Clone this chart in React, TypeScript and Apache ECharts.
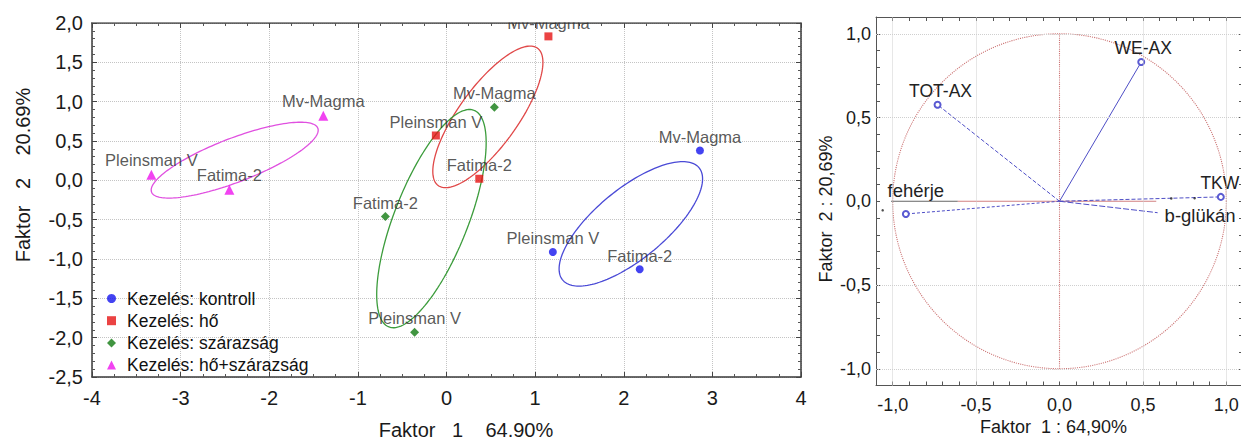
import React, { useEffect, useRef } from 'react';
import * as echarts from 'echarts';

// ---------- Data: score plot (Faktor 1 × Faktor 2) ----------
const pointNames = ['Pleinsman V', 'Fatima-2', 'Mv-Magma'];
const groupNames = ['Kezelés: kontroll', 'Kezelés: hő', 'Kezelés: szárazság', 'Kezelés: hő+szárazság'];
const kontrollX = [1.20, 2.18, 2.86];
const kontrollY = [-0.91, -1.13, 0.38];
const hoX = [-0.12, 0.37, 1.15];
const hoY = [0.57, 0.02, 1.83];
const szarazsagX = [-0.36, -0.69, 0.54];
const szarazsagY = [-1.93, -0.46, 0.93];
const hoSzarazsagX = [-3.33, -2.45, -1.39];
const hoSzarazsagY = [0.07, -0.12, 0.82];

// ---------- Data: loading plot ----------
const varNames = ['TOT-AX', 'WE-AX', 'TKW', 'fehérje', 'b-glükán'];
const loadX = [-0.731, 0.490, 0.967, -0.921, 0.585];
const loadY = [0.576, 0.831, 0.026, -0.076, -0.068];
const strayX = [-1.06, 0.67, 0.81];
const strayY = [-0.054, 0.017, 0.018];
const loadGridTicks = [-1, -0.5, 0.5, 1];
const axisRedX = [-0.61, 0.58];
const axisDarkX = [-1.01, -0.61];

const FONT = "'Liberation Sans', Arial, Helvetica, sans-serif";

function ellipsePoints(xs: number[], ys: number[], k = 0.97, n = 160) {
  const m = xs.length;
  const mx = xs.reduce((a, b) => a + b, 0) / m;
  const my = ys.reduce((a, b) => a + b, 0) / m;
  let sxx = 0, syy = 0, sxy = 0;
  for (let i = 0; i < m; i++) {
    sxx += (xs[i] - mx) ** 2;
    syy += (ys[i] - my) ** 2;
    sxy += (xs[i] - mx) * (ys[i] - my);
  }
  sxx /= m - 1; syy /= m - 1; sxy /= m - 1;
  const tr = sxx + syy;
  const det = sxx * syy - sxy * sxy;
  const disc = Math.sqrt(Math.max(tr * tr / 4 - det, 0));
  const l1 = tr / 2 + disc;
  const l2 = Math.max(tr / 2 - disc, 0);
  const th = 0.5 * Math.atan2(2 * sxy, sxx - syy);
  const a = k * Math.sqrt(l1);
  const b = k * Math.sqrt(l2);
  const pts: number[][] = [];
  for (let i = 0; i <= n; i++) {
    const t = (2 * Math.PI * i) / n;
    pts.push([
      mx + a * Math.cos(t) * Math.cos(th) - b * Math.sin(t) * Math.sin(th),
      my + a * Math.cos(t) * Math.sin(th) + b * Math.sin(t) * Math.cos(th),
    ]);
  }
  return pts;
}

function circlePoints(n = 240) {
  const pts: number[][] = [];
  for (let i = 0; i <= n; i++) {
    const t = (2 * Math.PI * i) / n;
    pts.push([Math.cos(t), Math.sin(t)]);
  }
  return pts;
}

const comma = (v: number, d = 1) => v.toFixed(d).replace('.', ',');

export default function App() {
  const ref = useRef<HTMLDivElement>(null);

  useEffect(() => {
    if (!ref.current) return;
    const chart = echarts.init(ref.current, undefined, { renderer: 'svg' });

    const groups = [
      { name: groupNames[0], xs: kontrollX, ys: kontrollY, symbol: 'circle', size: 8, color: '#1414ee', ell: '#4a4ad6' },
      { name: groupNames[1], xs: hoX, ys: hoY, symbol: 'rect', size: 8, color: '#e61414', ell: '#e04848' },
      { name: groupNames[2], xs: szarazsagX, ys: szarazsagY, symbol: 'diamond', size: 9, color: '#127a12', ell: '#3c9c3c' },
      { name: groupNames[3], xs: hoSzarazsagX, ys: hoSzarazsagY, symbol: 'triangle', size: 10, color: '#ee14ee', ell: '#e050e0' },
    ];

    const scoreSeries: any[] = [];
    groups.forEach((g) => {
      scoreSeries.push({
        type: 'line',
        name: g.name + ' ellipszis',
        xAxisIndex: 0, yAxisIndex: 0,
        data: ellipsePoints(g.xs, g.ys),
        showSymbol: false, symbol: 'none',
        lineStyle: { color: g.ell, width: 1.3 },
        silent: true, z: 2,
      });
    });
    groups.forEach((g) => {
      scoreSeries.push({
        type: 'scatter',
        name: g.name,
        xAxisIndex: 0, yAxisIndex: 0,
        symbol: g.symbol, symbolSize: g.size,
        itemStyle: { color: g.color },
        data: g.xs.map((x, i) => ({ name: pointNames[i], value: [x, g.ys[i]] })),
        label: {
          show: true, position: 'top', distance: 1, formatter: '{b}',
          color: '#2e2e2e', fontSize: 16.5, fontFamily: FONT,
        },
        z: 3,
      });
    });

    const vecStyle: Record<string, any> = {
      'TOT-AX': { type: [4, 2], offset: [3, 0], size: 17.5 },
      'WE-AX': { type: 'solid', offset: [2, 0], size: 17.5 },
      'TKW': { type: [4, 2], offset: [-1, 0], size: 17.5 },
      'fehérje': { type: [3, 2], offset: [10, -9], size: 18.5 },
      'b-glükán': { type: [6, 2], offset: [0, 3], size: 18.5, noMarker: true },
    };

    const loadSeries: any[] = varNames.map((nm, i) => {
      const st = vecStyle[nm];
      return {
        type: 'line',
        name: nm,
        xAxisIndex: 2, yAxisIndex: 2,
        symbol: 'emptyCircle', symbolSize: 6, showSymbol: true,
        itemStyle: { color: '#5a5ad2', borderWidth: 1.2 },
        lineStyle: { color: '#4e4ec6', width: 1, type: st.type },
        data: [
          { value: [0, 0], symbol: 'none', label: { show: false } },
          {
            name: nm,
            value: [loadX[i], loadY[i]],
            symbol: st.noMarker ? 'circle' : 'emptyCircle',
            symbolSize: st.noMarker ? 1 : 6,
            label: st.noMarker
              ? { show: true, position: 'right', distance: 7, offset: st.offset, formatter: '{b}', fontSize: st.size }
              : { show: true, position: 'top', distance: 1, offset: st.offset, formatter: '{b}', fontSize: st.size },
          },
        ],
        label: { color: '#222', fontSize: 17.5, fontFamily: FONT },
        silent: true, z: 4,
      };
    });

    const option: any = {
      animation: false,
      backgroundColor: '#ffffff',
      textStyle: { fontFamily: FONT },
      grid: [
        { left: 92, top: 23, width: 709, height: 354, show: false },
        { left: 876, top: 17, width: 367, height: 368.5, show: false },
      ],
      legend: {
        data: groupNames,
        orient: 'vertical',
        left: 107, top: 289.5,
        padding: 0,
        itemWidth: 9, itemHeight: 9, itemGap: 4.2,
        selectedMode: false,
        textStyle: { fontSize: 17.5, lineHeight: 17, color: '#111', fontFamily: FONT, padding: [0, 0, 0, 6] },
      },
      xAxis: [
        {
          gridIndex: 0, type: 'value', position: 'bottom', min: -4, max: 4, interval: 1,
          axisLine: { show: true, onZero: false, lineStyle: { color: '#3a3a3a', width: 1.5 } },
          axisTick: { show: true, inside: true, length: 5, lineStyle: { color: '#444' } },
          minorTick: { show: true, splitNumber: 4, length: 3, lineStyle: { color: '#555' } },
          splitLine: { show: true, lineStyle: { type: 'dotted', color: '#c4c4c4', width: 1 } },
          axisLabel: { fontSize: 20, color: '#1a1a1a', margin: 11, interval: 0, showMinLabel: true, showMaxLabel: true, fontFamily: FONT },
        },
        {
          gridIndex: 0, type: 'value', position: 'top', min: -4, max: 4, interval: 1,
          axisLine: { show: true, onZero: false, lineStyle: { color: '#3a3a3a', width: 1.5 } },
          axisTick: { show: true, inside: true, length: 5, lineStyle: { color: '#444' } },
          minorTick: { show: true, splitNumber: 4, length: 3, lineStyle: { color: '#555' } },
          splitLine: { show: false }, axisLabel: { show: false },
        },
        {
          gridIndex: 1, type: 'value', position: 'bottom', min: -1.1, max: 1.1, interval: 0.1,
          axisLine: { show: true, onZero: false, lineStyle: { color: '#555', width: 1 } },
          axisTick: { show: true, inside: true, length: 4, lineStyle: { color: '#555' } },
          splitLine: { show: false },
          axisLabel: {
            fontSize: 18, color: '#1a1a1a', margin: 10, interval: 0, hideOverlap: false, fontFamily: FONT,
            formatter: (v: number) => { const r = Math.round(v * 10); return r % 5 === 0 ? comma(r / 10) : ''; },
          },
        },
        {
          gridIndex: 1, type: 'value', position: 'top', min: -1.1, max: 1.1, interval: 0.1,
          axisLine: { show: true, onZero: false, lineStyle: { color: '#555', width: 1 } },
          axisTick: { show: true, inside: true, length: 4, lineStyle: { color: '#555' } },
          splitLine: { show: false }, axisLabel: { show: false },
        },
      ],
      yAxis: [
        {
          gridIndex: 0, type: 'value', position: 'left', min: -2.5, max: 2, interval: 0.5,
          axisLine: { show: true, onZero: false, lineStyle: { color: '#3a3a3a', width: 1.5 } },
          axisTick: { show: true, inside: true, length: 5, lineStyle: { color: '#444' } },
          minorTick: { show: true, splitNumber: 5, length: 3, lineStyle: { color: '#555' } },
          splitLine: { show: true, lineStyle: { type: 'dotted', color: '#c4c4c4', width: 1 } },
          axisLabel: { fontSize: 20, color: '#1a1a1a', margin: 9, interval: 0, showMinLabel: true, showMaxLabel: true, fontFamily: FONT, formatter: (v: number) => comma(v) },
        },
        {
          gridIndex: 0, type: 'value', position: 'right', min: -2.5, max: 2, interval: 0.5,
          axisLine: { show: true, onZero: false, lineStyle: { color: '#3a3a3a', width: 1.5 } },
          axisTick: { show: true, inside: true, length: 5, lineStyle: { color: '#444' } },
          minorTick: { show: true, splitNumber: 5, length: 3, lineStyle: { color: '#555' } },
          splitLine: { show: false }, axisLabel: { show: false },
        },
        {
          gridIndex: 1, type: 'value', position: 'left', min: -1.1, max: 1.1, interval: 0.1,
          axisLine: { show: true, onZero: false, lineStyle: { color: '#555', width: 1 } },
          axisTick: { show: true, inside: true, length: 4, lineStyle: { color: '#555' } },
          splitLine: { show: false },
          axisLabel: {
            fontSize: 18, color: '#1a1a1a', margin: 5, interval: 0, hideOverlap: false, fontFamily: FONT,
            formatter: (v: number) => { const r = Math.round(v * 10); return r % 5 === 0 ? comma(r / 10) : ''; },
          },
        },
        {
          gridIndex: 1, type: 'value', position: 'right', min: -1.1, max: 1.1, interval: 0.1,
          axisLine: { show: true, onZero: false, lineStyle: { color: '#555', width: 1 } },
          axisTick: { show: true, inside: true, length: 4, lineStyle: { color: '#555' } },
          splitLine: { show: false }, axisLabel: { show: false },
        },
      ],
      series: [
        ...scoreSeries,
        {
          type: 'line', name: 'kör', xAxisIndex: 2, yAxisIndex: 2,
          data: circlePoints(), showSymbol: false, symbol: 'none', silent: true,
          lineStyle: { color: '#cc7474', width: 1.1, type: 'dotted' }, z: 1,
          markLine: {
            silent: true, symbol: ['none', 'none'], label: { show: false },
            lineStyle: { type: 'dotted', color: '#cfcfcf', width: 1 },
            data: [
              ...loadGridTicks.map((v) => ({ xAxis: v })),
              ...loadGridTicks.map((v) => ({ yAxis: v })),
            ],
          },
        },
        {
          type: 'line', name: 'tengely-y', xAxisIndex: 2, yAxisIndex: 2,
          data: [[0, -1], [0, 1]], showSymbol: false, symbol: 'none', silent: true,
          lineStyle: { color: '#cc7474', width: 1.1, type: 'dotted' }, z: 1,
        },
        {
          type: 'line', name: 'tengely-x', xAxisIndex: 2, yAxisIndex: 2,
          data: axisRedX.map((x) => [x, 0]), showSymbol: false, symbol: 'none', silent: true,
          lineStyle: { color: '#d28080', width: 1.2 }, z: 1,
        },
        {
          type: 'line', name: 'tengely-x2', xAxisIndex: 2, yAxisIndex: 2,
          data: axisDarkX.map((x) => [x, 0]), showSymbol: false, symbol: 'none', silent: true,
          lineStyle: { color: '#666', width: 1 }, z: 1,
        },
        ...loadSeries,
        {
          type: 'scatter', name: 'pontok', xAxisIndex: 2, yAxisIndex: 2,
          data: strayX.map((x, i) => [x, strayY[i]]),
          symbol: 'circle', symbolSize: 2.5, itemStyle: { color: '#222' }, silent: true, z: 5,
        },
      ],
      graphic: [
        { type: 'rect', shape: { x: 92, y: 0, width: 710, height: 22.3 }, style: { fill: '#ffffff' }, z: 100, silent: true },
        {
          type: 'text', x: 466, y: 429.5, z: 101,
          style: { text: 'Faktor\u00a0\u00a0\u00a01\u00a0\u00a0\u00a0\u00a064.90%', fontSize: 20, fontFamily: FONT, fill: '#1a1a1a', textAlign: 'center', textVerticalAlign: 'middle', align: 'center', verticalAlign: 'middle' },
        },
        {
          type: 'text', x: 23, y: 175, rotation: Math.PI / 2, z: 101,
          style: { text: 'Faktor\u00a0\u00a0\u00a02\u00a0\u00a0\u00a0\u00a020.69%', fontSize: 20, fontFamily: FONT, fill: '#1a1a1a', textAlign: 'center', textVerticalAlign: 'middle', align: 'center', verticalAlign: 'middle' },
        },
        {
          type: 'text', x: 1053.5, y: 427, z: 101,
          style: { text: 'Faktor\u00a0\u00a01 : 64,90%', fontSize: 18, fontFamily: FONT, fill: '#1a1a1a', textAlign: 'center', textVerticalAlign: 'middle', align: 'center', verticalAlign: 'middle' },
        },
        {
          type: 'text', x: 826, y: 209, rotation: Math.PI / 2, z: 101,
          style: { text: 'Faktor\u00a0\u00a02 : 20,69%', fontSize: 18, fontFamily: FONT, fill: '#1a1a1a', textAlign: 'center', textVerticalAlign: 'middle', align: 'center', verticalAlign: 'middle' },
        },
      ],
    };

    chart.setOption(option);
    return () => chart.dispose();
  }, []);

  return (
    <div style={{ position: 'fixed', left: 0, top: 0, width: 1241, height: 441, overflow: 'hidden', background: '#fff' }}>
      <div ref={ref} style={{ width: 1270, height: 441 }} />
    </div>
  );
}
